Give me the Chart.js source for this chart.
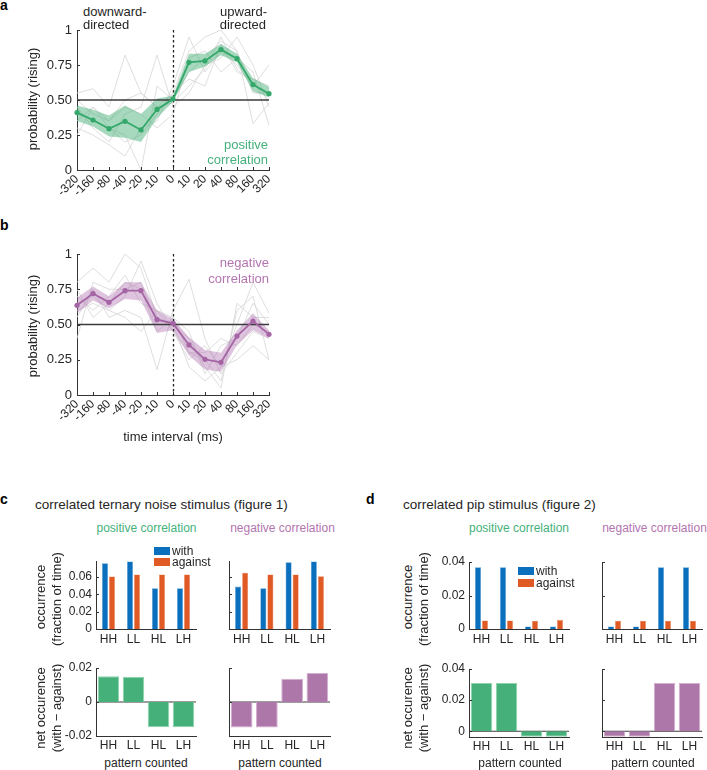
<!DOCTYPE html>
<html><head><meta charset="utf-8">
<script src="https://cdn.jsdelivr.net/npm/chart.js@4/dist/chart.umd.min.js"></script>
<style>
body{margin:0;background:#fff;width:707px;height:770px;position:relative;overflow:hidden;font-family:"Liberation Sans",Arial,sans-serif;color:#262626}
canvas{position:absolute}
.t{position:absolute;white-space:nowrap;line-height:1}
</style></head><body>
<script>
// ---------- data ----------
const timeLabels = ['-320','-160','-80','-40','-20','-10','0','10','20','40','80','160','320'];
const probTicks = [0, 0.25, 0.5, 0.75, 1];
const probTickLabels = ['0','0.25','0.50','0.75','1'];

const posMean  = [0.41,0.357,0.295,0.348,0.286,0.433,0.507,0.769,0.779,0.86,0.795,0.61,0.545];
const posUpper = [0.46,0.43,0.39,0.46,0.40,0.51,0.53,0.83,0.83,0.90,0.83,0.655,0.595];
const posLower = [0.35,0.31,0.24,0.23,0.20,0.37,0.49,0.70,0.74,0.82,0.77,0.56,0.52];
const posFlies = [
  [0.55,0.58,0.45,0.82,0.55,0.45,0.55,0.85,0.95,1.00,0.85,0.55,0.55],
  [0.35,0.45,0.30,0.25,0.00,0.60,0.50,0.70,0.80,0.92,0.85,0.33,0.48],
  [0.45,0.30,0.20,0.40,0.45,0.82,0.45,0.55,0.75,0.80,0.95,0.75,0.45],
  [0.30,0.25,0.18,0.10,0.30,0.35,0.60,0.95,0.70,0.85,0.75,0.60,0.75],
  [0.50,0.40,0.35,0.45,0.40,0.30,0.40,0.80,0.85,0.70,0.80,0.70,0.32],
  [0.40,0.35,0.30,0.20,0.25,0.40,0.55,0.65,0.60,0.90,0.70,0.65,0.60],
  [0.25,0.45,0.35,0.50,0.55,0.45,0.48,0.60,0.72,0.95,0.72,0.62,0.50]
];

const negMean  = [0.636,0.72,0.657,0.74,0.74,0.534,0.508,0.355,0.253,0.232,0.418,0.525,0.43];
const negUpper = [0.69,0.77,0.70,0.80,0.80,0.60,0.54,0.41,0.32,0.30,0.46,0.58,0.46];
const negLower = [0.58,0.67,0.615,0.68,0.67,0.44,0.46,0.28,0.18,0.165,0.355,0.46,0.40];
const negFlies = [
  [0.80,0.90,0.80,1.00,0.90,0.55,0.50,0.20,0.10,0.20,0.50,0.80,0.58],
  [0.55,0.75,0.55,0.60,0.55,0.18,0.60,0.82,0.40,0.15,0.30,0.45,0.40],
  [0.70,0.60,0.70,0.85,0.65,0.60,0.55,0.30,0.25,0.10,0.60,0.70,0.25],
  [0.60,0.65,0.60,0.70,0.95,0.65,0.45,0.30,0.30,0.40,0.35,0.50,0.45],
  [0.40,0.80,0.75,0.75,0.80,0.50,0.50,0.40,0.20,0.05,0.65,0.55,0.55],
  [0.65,0.70,0.60,0.55,0.45,0.60,0.45,0.25,0.35,0.20,0.25,0.35,0.25],
  [0.75,0.55,0.65,0.80,0.75,0.45,0.55,0.45,0.15,0.35,0.40,0.65,0.50]
];

const patterns = ['HH','LL','HL','LH'];
const ternPosWith    = [0.0758,0.078,0.047,0.047];
const ternPosAgainst = [0.0606,0.063,0.063,0.063];
const ternNegWith    = [0.049,0.047,0.077,0.078];
const ternNegAgainst = [0.065,0.063,0.063,0.061];
const ternPosNet = [0.0151,0.0148,-0.0149,-0.0149];
const ternNegNet = [-0.015,-0.015,0.0137,0.017];
const pipPosWith    = [0.0368,0.0368,0.0015,0.0015];
const pipPosAgainst = [0.0051,0.0051,0.005,0.0055];
const pipNegWith    = [0.0015,0.0015,0.0368,0.0368];
const pipNegAgainst = [0.005,0.005,0.005,0.005];
const pipPosNet = [0.031,0.031,-0.0035,-0.0035];
const pipNegNet = [-0.0035,-0.0035,0.031,0.031];

const ternTopTicks = [0,0.02,0.04,0.06], ternTopTickLabels = ['0','0.02','0.04','0.06'];
const ternNetTicks = [-0.02,0,0.02], ternNetTickLabels = ['-0.02','0','0.02'];
const pipTicks = [0,0.02,0.04], pipTickLabels = ['0','0.02','0.04'];

// ---------- style ----------
const GREEN='#34a86a', GREEN_BAND='rgba(58,170,110,0.45)', GREEN_TXT='#45b17b', GREEN_BAR='#46b07b';
const PURPLE='#a565a5', PURPLE_BAND='rgba(168,100,168,0.38)', PURPLE_TXT='#b375b0', PURPLE_BAR='#ad77a9';
const BLUE='#0a6fbd', ORANGE='#e05a26', AXIS='#333';

Chart.defaults.font.family='"Liberation Sans", Arial, sans-serif';
Chart.defaults.color='#262626';

const innerTicks = {
  id:'innerTicks',
  afterDatasetsDraw(chart, args, o){
    if(!o || !o.len) return;
    const ctx=chart.ctx, a=chart.chartArea;
    ctx.save(); ctx.strokeStyle=AXIS; ctx.lineWidth=1;
    if(o.y){ chart.scales.y.ticks.forEach(t=>{ const p=Math.round(chart.scales.y.getPixelForValue(t.value))+0.5; ctx.beginPath(); ctx.moveTo(a.left,p); ctx.lineTo(a.left+o.len,p); ctx.stroke(); }); }
    if(o.x){ chart.scales.x.ticks.forEach((t,i)=>{ const p=Math.round(chart.scales.x.getPixelForTick(i))+0.5; ctx.beginPath(); ctx.moveTo(p,a.bottom); ctx.lineTo(p,a.bottom-o.len); ctx.stroke(); }); }
    ctx.restore();
  }
};
function drawRef(chart,o){
  const ctx=chart.ctx, a=chart.chartArea;
  ctx.save();
  if(o.y!==undefined){ const p=chart.scales.y.getPixelForValue(o.y); ctx.strokeStyle='#3a3a3a'; ctx.lineWidth=o.w||1.4; ctx.beginPath(); ctx.moveTo(a.left,p); ctx.lineTo(a.right,p); ctx.stroke(); }
  if(o.xIndex!==undefined){ const p=Math.round(chart.scales.x.getPixelForTick(o.xIndex))+0.5; ctx.strokeStyle='#222'; ctx.lineWidth=1.3; ctx.setLineDash([2.5,2.5]); ctx.beginPath(); ctx.moveTo(p,a.top); ctx.lineTo(p,a.bottom); ctx.stroke(); }
  ctx.restore();
}
const refLines = {
  id:'refLines',
  afterDatasetDraw(chart,args,o){ if(o && o.afterIndex!==undefined && args.index===o.afterIndex) drawRef(chart,o); },
  beforeDatasetsDraw(chart,args,o){ if(o && o.before) drawRef(chart,o); }
};
Chart.register(innerTicks, refLines);

function mk(area, pad, config){
  const c=document.createElement('canvas');
  const w=area[1]-area[0]+pad.l+pad.r, h=area[3]-area[2]+pad.t+pad.b;
  c.width=w; c.height=h;
  c.style.left=(area[0]-pad.l)+'px'; c.style.top=(area[2]-pad.t)+'px';
  c.style.width=w+'px'; c.style.height=h+'px';
  document.body.appendChild(c);
  const o=config.options;
  o.responsive=false; o.devicePixelRatio=1; o.animation=false; o.events=[];
  o.layout={padding:{top:pad.t,right:pad.r,left:0,bottom:0}};
  o.plugins=Object.assign({legend:{display:false},tooltip:{enabled:false}}, o.plugins||{});
  o.scales.x.afterFit=s=>{ s.height=pad.b; s.paddingLeft=0; s.paddingRight=0; s.paddingTop=0; s.paddingBottom=0; };
  o.scales.y.afterFit=s=>{ s.width=pad.l; s.paddingLeft=0; s.paddingRight=0; s.paddingTop=0; s.paddingBottom=0; };
  return new Chart(c, config);
}
const noGrid={display:false, drawTicks:false};
const axBorder={display:true, color:AXIS, width:1};

function lineChart(area, mean, upper, lower, flies, col, band){
  const ds=[
    {data:mean, borderColor:col, backgroundColor:col, borderWidth:1.8, pointRadius:2.6, pointBorderWidth:0, fill:false, tension:0},
    {data:upper, borderColor:'rgba(0,0,0,0)', borderWidth:0, pointRadius:0, backgroundColor:band, fill:'+1'},
    {data:lower, borderColor:'rgba(0,0,0,0)', borderWidth:0, pointRadius:0, fill:false}
  ];
  flies.forEach(f=>ds.push({data:f, borderColor:'#d6d6d6', borderWidth:0.8, pointRadius:0, fill:false}));
  return mk(area,{l:50,r:16,t:8,b:40},{
    type:'line',
    data:{labels:timeLabels, datasets:ds},
    options:{
      plugins:{innerTicks:{len:3,x:true,y:true}, refLines:{y:0.5, xIndex:timeLabels.indexOf('0'), afterIndex:1}},
      scales:{
        x:{type:'category', offset:false, grid:noGrid, border:axBorder,
           ticks:{autoSkip:false, minRotation:45, maxRotation:45, padding:2, font:{size:12}}},
        y:{min:0, max:1, grid:noGrid, border:axBorder,
           afterBuildTicks:s=>{ s.ticks=probTicks.map(v=>({value:v})); },
           ticks:{padding:5, font:{size:13}, callback:v=>probTickLabels[probTicks.indexOf(v)]}}
      }
    }
  });
}
lineChart([77,269,30,170], posMean, posUpper, posLower, posFlies, GREEN, GREEN_BAND);
lineChart([77,269,254,395], negMean, negUpper, negLower, negFlies, PURPLE, PURPLE_BAND);

function barChart(area, pad, datasets, yMin, yMax, ticks, tickLabels, showY, net){
  return mk(area, pad, {
    type:'bar',
    data:{labels:patterns, datasets:datasets},
    options:{
      plugins:{innerTicks:{len:3,y:true}, refLines: net?{y:0, w:1.1, before:true}:false},
      scales:{
        x:{type:'category', offset:true, grid:noGrid, border:axBorder, ticks:{padding:net?2:3, font:{size:12}}},
        y:{min:yMin, max:yMax, grid:noGrid, border:axBorder,
           afterBuildTicks:s=>{ s.ticks=ticks.map(v=>({value:v})); },
           ticks:{display:showY, padding:4, font:{size:12}, callback:v=>tickLabels[ticks.indexOf(v)]}}
      }
    }
  });
}
function pair(w,a){
  return [
    {data:w, backgroundColor:BLUE, borderColor:'#5a9fd6', borderWidth:0.6, categoryPercentage:0.56, barPercentage:0.86},
    {data:a, backgroundColor:ORANGE, borderColor:'#f0916a', borderWidth:0.6, categoryPercentage:0.56, barPercentage:0.86}
  ];
}
function netDs(d,col,edge){ return [{data:d, backgroundColor:col, borderColor:edge, borderWidth:1, categoryPercentage:1, barPercentage:0.86}]; }

const padL={l:40,r:4,t:8,b:20}, padR={l:4,r:4,t:8,b:20};
barChart([96,196,561,629], padL, pair(ternPosWith,ternPosAgainst), 0, 0.0785, ternTopTicks, ternTopTickLabels, true, false);
barChart([229,330,561,629], padR, pair(ternNegWith,ternNegAgainst), 0, 0.0785, ternTopTicks, ternTopTickLabels, false, false);
barChart([96,196,668,736], padL, netDs(ternPosNet,GREEN_BAR,'#8fd3ad'), -0.02, 0.02, ternNetTicks, ternNetTickLabels, true, true);
barChart([229,330,668,736], padR, netDs(ternNegNet,PURPLE_BAR,'#d3afd0'), -0.02, 0.02, ternNetTicks, ternNetTickLabels, false, true);

barChart([469,569,562,629], padL, pair(pipPosWith,pipPosAgainst), 0, 0.04, pipTicks, pipTickLabels, true, false);
barChart([602,702,562,629], {l:4,r:3,t:8,b:20}, pair(pipNegWith,pipNegAgainst), 0, 0.04, pipTicks, pipTickLabels, false, false);
barChart([469,569,669,737], padL, netDs(pipPosNet,GREEN_BAR,'#8fd3ad'), -0.0037, 0.04, pipTicks, pipTickLabels, true, true);
barChart([602,702,669,737], {l:4,r:3,t:8,b:20}, netDs(pipNegNet,PURPLE_BAR,'#d3afd0'), -0.0037, 0.04, pipTicks, pipTickLabels, false, true);

// ---------- text ----------
function txt(s,x,y,o){
  o=o||{};
  const d=document.createElement('div'); d.className='t'; d.textContent=s;
  d.style.left=x+'px'; d.style.top=y+'px';
  d.style.fontSize=(o.size||13)+'px';
  if(o.color) d.style.color=o.color;
  if(o.bold) d.style.fontWeight='bold';
  const tx={left:'0',center:'-50%',right:'-100%'}[o.align||'left'];
  d.style.transform='translate('+tx+',-50%)'+(o.rot?' rotate(-90deg)':'');
  document.body.appendChild(d);
}
txt('a',0,5,{size:14,bold:true,color:'#000'});
txt('b',0,225,{size:14,bold:true,color:'#000'});
txt('c',0,499,{size:14,bold:true,color:'#000'});
txt('d',366,499,{size:14,bold:true,color:'#000'});

txt('downward-',83,11); txt('directed',83,24);
txt('upward-',267,11,{align:'right'}); txt('directed',266,24,{align:'right'});
txt('positive',268,144,{align:'right',color:GREEN_TXT}); txt('correlation',268,159,{align:'right',color:GREEN_TXT});
txt('negative',269,262,{align:'right',color:PURPLE_TXT}); txt('correlation',269,278,{align:'right',color:PURPLE_TXT});
txt('probability (rising)',32,99,{align:'center',rot:true});
txt('probability (rising)',32,326,{align:'center',rot:true});
txt('time interval (ms)',173,436,{align:'center'});

txt('correlated ternary noise stimulus (figure 1)',35,505,{size:13.5});
txt('correlated pip stimulus (figure 2)',403,505,{size:13.5});
txt('positive correlation',146.5,528,{size:12,align:'center',color:GREEN_TXT});
txt('negative correlation',282.5,528,{size:12,align:'center',color:PURPLE_TXT});
txt('positive correlation',519,528,{size:12,align:'center',color:GREEN_TXT});
txt('negative correlation',654.5,528,{size:12,align:'center',color:PURPLE_TXT});

[[40,56],[407,423]].forEach(p=>{
  txt('occurrence',p[0],597,{align:'center',rot:true});
  txt('(fraction of time)',p[1],599,{align:'center',rot:true});
  txt('net occurence',p[0],708,{align:'center',rot:true});
  txt('(with \u2212 against)',p[1],708,{align:'center',rot:true});
});
txt('pattern counted',146,763,{size:12,align:'center'});
txt('pattern counted',280,763,{size:12,align:'center'});
txt('pattern counted',520,763,{size:12,align:'center'});
txt('pattern counted',653,763,{size:12,align:'center'});

function legend(x,y1,y2){
  [[BLUE,'with',y1],[ORANGE,'against',y2]].forEach(e=>{
    const b=document.createElement('div');
    b.style.cssText='position:absolute;left:'+x+'px;top:'+(e[2]-4)+'px;width:16px;height:8px;background:'+e[0];
    document.body.appendChild(b);
    txt(e[1],x+18,e[2],{size:12});
  });
}
legend(154,551,562);
legend(518,571,583);
</script></body></html>
